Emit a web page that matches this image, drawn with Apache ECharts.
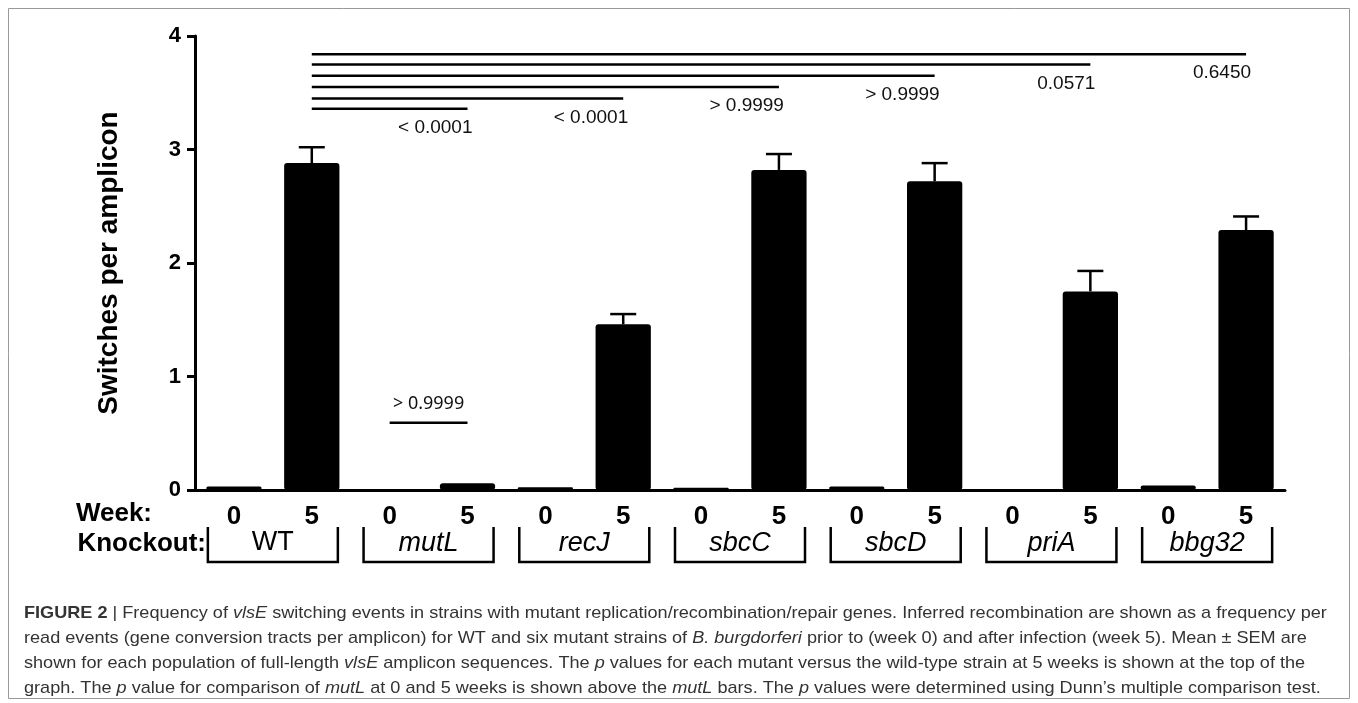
<!DOCTYPE html>
<html>
<head>
<meta charset="utf-8">
<script src="https://cdn.jsdelivr.net/npm/echarts@6/dist/echarts.min.js"></script>
<style>
html,body{margin:0;padding:0;background:#fff;}
#chart{width:1358px;height:703px;}
</style>
</head>
<body>
<div id="chart"></div>
<script>
// ---- data ----
const strains = ['WT', 'mutL', 'recJ', 'sbcC', 'sbcD', 'priA', 'bbg32'];
const weeks = ['0', '5'];
const means = [0.03, 2.88, 0.0, 0.06, 0.025, 1.46, 0.02, 2.82, 0.03, 2.72, 0.0, 1.75, 0.04, 2.29];
const sems  = [0.0, 0.14, 0.0, 0.0, 0.0, 0.09, 0.0, 0.14, 0.0, 0.16, 0.0, 0.18, 0.0, 0.12];
const yTicks = [0, 1, 2, 3, 4];
// comparisons of WT week 5 vs each mutant week 5
const sigTargets = ['mutL', 'recJ', 'sbcC', 'sbcD', 'priA', 'bbg32'];
const sigLevels = [3.36, 3.45, 3.55, 3.65, 3.75, 3.84];
const sigPvals = ['< 0.0001', '< 0.0001', '> 0.9999', '> 0.9999', '0.0571', '0.6450'];
// mutL week 0 vs week 5
const mutLLevel = 0.593;
const mutLPval = '> 0.9999';

const categories = [];
strains.forEach(s => weeks.forEach(w => categories.push(s + '|' + w)));
const idx = (s, w) => categories.indexOf(s + '|' + w);

const FONT = '"Liberation Sans", Arial, sans-serif';

const chart = echarts.init(document.getElementById('chart'), null, {renderer: 'canvas'});

const errData = means.map((m, i) => [i, m, m + sems[i], sems[i]]);
const sigData = sigTargets.map((s, k) => [idx('WT', '5'), idx(s, '5'), sigLevels[k], sigPvals[k]]);
const bracketData = strains.map(s => [idx(s, '0'), idx(s, '5'), s]);

const capStyle = (text) => ({
  text: text,
  verticalAlign: 'middle', fill: '#333', font: '17px ' + FONT,
  rich: {
    b: {fontWeight: 'bold', fontSize: 17, fontFamily: FONT, fill: '#333'},
    i: {fontStyle: 'italic', fontSize: 17, fontFamily: FONT, fill: '#333'}
  }
});
const CAP_SX = 1.065;

const option = {
  backgroundColor: '#fff',
  animation: false,
  grid: {left: 195, top: 36, width: 1090, height: 454, containLabel: false},
  xAxis: {
    type: 'category',
    data: categories,
    axisLine: {lineStyle: {color: '#000', width: 3}},
    axisTick: {alignWithLabel: true, length: 8, lineStyle: {color: '#000', width: 3}},
    axisLabel: {
      color: '#000', fontSize: 26, fontWeight: 'bold', fontFamily: FONT, margin: 14,
      formatter: v => v.split('|')[1]
    },
    splitLine: {show: false}
  },
  yAxis: {
    type: 'value', min: yTicks[0], max: yTicks[yTicks.length - 1], interval: 1,
    name: 'Switches per amplicon',
    nameLocation: 'middle', nameGap: 72,
    nameTextStyle: {color: '#000', fontSize: 28, fontWeight: 'bold', fontFamily: FONT},
    axisLine: {show: true, lineStyle: {color: '#000', width: 3}},
    axisTick: {show: true, length: 8, lineStyle: {color: '#000', width: 3}},
    axisLabel: {color: '#000', fontSize: 22, fontWeight: 'bold', fontFamily: FONT, margin: 14},
    splitLine: {show: false}
  },
  series: [
    {
      type: 'bar',
      data: means,
      barWidth: '71%',
      itemStyle: {color: '#000', borderRadius: 3},
      z: 2
    },
    {
      type: 'custom',
      data: errData,
      z: 3,
      renderItem: (params, api) => {
        if (api.value(3) <= 0) return null;
        const top = api.coord([api.value(0), api.value(2)]);
        const base = api.coord([api.value(0), api.value(1)]);
        const half = 13;
        return {
          type: 'group',
          children: [
            {type: 'line', shape: {x1: top[0], y1: top[1], x2: base[0], y2: base[1]}, style: {stroke: '#000', lineWidth: 2.5}},
            {type: 'line', shape: {x1: top[0] - half, y1: top[1], x2: top[0] + half, y2: top[1]}, style: {stroke: '#000', lineWidth: 2.5}}
          ]
        };
      }
    },
    {
      type: 'custom',
      data: sigData,
      z: 3,
      renderItem: (params, api) => {
        const a = api.coord([api.value(0), api.value(2)]);
        const b = api.coord([api.value(1), api.value(2)]);
        const txt = sigData[params.dataIndex][3];
        return {
          type: 'group',
          children: [
            {type: 'line', shape: {x1: a[0], y1: a[1], x2: b[0], y2: b[1]}, style: {stroke: '#000', lineWidth: 2.5}},
            {type: 'text', x: b[0] + 5, y: b[1] + 19,
             style: {text: txt, align: 'right', verticalAlign: 'middle', fill: '#111', font: '19px ' + FONT}}
          ]
        };
      }
    },
    {
      type: 'custom',
      data: [[idx('mutL', '0'), idx('mutL', '5'), mutLLevel]],
      z: 3,
      renderItem: (params, api) => {
        const a = api.coord([api.value(0), api.value(2)]);
        const b = api.coord([api.value(1), api.value(2)]);
        return {
          type: 'group',
          children: [
            {type: 'line', shape: {x1: a[0], y1: a[1], x2: b[0], y2: b[1]}, style: {stroke: '#000', lineWidth: 2.5}},
            {type: 'text', x: (a[0] + b[0]) / 2, y: a[1] - 19,
             style: {text: mutLPval, align: 'center', verticalAlign: 'middle', fill: '#111', font: '18px "Noto Sans", sans-serif'}}
          ]
        };
      }
    },
    {
      type: 'custom',
      data: bracketData,
      clip: false,
      z: 3,
      renderItem: (params, api) => {
        const x0 = api.coord([api.value(0), 0]);
        const x1 = api.coord([api.value(1), 0]);
        const c = (x0[0] + x1[0]) / 2;
        const y0 = x0[1];
        const half = 65;
        const name = bracketData[params.dataIndex][2];
        return {
          type: 'group',
          children: [
            {type: 'polyline', shape: {points: [[c - half, y0 + 37], [c - half, y0 + 72], [c + half, y0 + 72], [c + half, y0 + 37]]},
             style: {stroke: '#000', lineWidth: 2.5, fill: null}},
            {type: 'text', x: c, y: y0 + 53,
             style: {text: name, align: 'center', verticalAlign: 'middle', fill: '#000',
                     font: (name === 'WT' ? '' : 'italic ') + '27px ' + FONT}}
          ]
        };
      }
    }
  ],
  graphic: [
    {type: 'rect', shape: {x: 8.5, y: 8.5, width: 1341, height: 690}, style: {stroke: '#999', lineWidth: 1, fill: null}, silent: true},
    {type: 'text', x: 152, y: 514, style: {text: 'Week:', align: 'right', verticalAlign: 'middle', fill: '#000', font: 'bold 26px ' + FONT}},
    {type: 'text', x: 206, y: 544, style: {text: 'Knockout:', align: 'right', verticalAlign: 'middle', fill: '#000', font: 'bold 26px ' + FONT}},
    {type: 'text', x: 24, y: 613, scaleX: CAP_SX, style: capStyle(
      '{b|FIGURE 2} | Frequency of {i|vlsE} switching events in strains with mutant replication/recombination/repair genes. Inferred recombination are shown as a frequency per')},
    {type: 'text', x: 24, y: 638, scaleX: CAP_SX, style: capStyle(
      'read events (gene conversion tracts per amplicon) for WT and six mutant strains of {i|B. burgdorferi} prior to (week 0) and after infection (week 5). Mean \u00b1 SEM are')},
    {type: 'text', x: 24, y: 663, scaleX: CAP_SX, style: capStyle(
      'shown for each population of full-length {i|vlsE} amplicon sequences. The {i|p} values for each mutant versus the wild-type strain at 5 weeks is shown at the top of the')},
    {type: 'text', x: 24, y: 688, scaleX: CAP_SX, style: capStyle(
      'graph. The {i|p} value for comparison of {i|mutL} at 0 and 5 weeks is shown above the {i|mutL} bars. The {i|p} values were determined using Dunn\u2019s multiple comparison test.')}
  ]
};
chart.setOption(option);
</script>
</body>
</html>
